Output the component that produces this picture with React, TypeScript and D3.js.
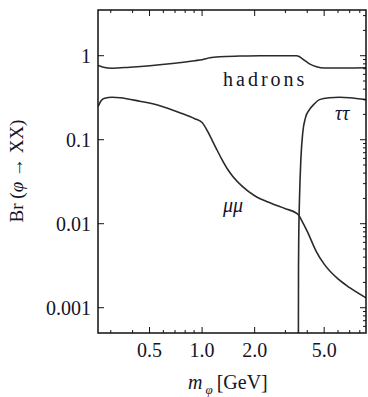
import React from "react";
import * as d3 from "d3";

const hadronX = [0.2535, 0.272, 0.305, 0.386, 0.503, 0.698, 0.908, 1.0, 1.107, 1.26, 1.64, 2.14, 3.47, 3.61, 3.86, 4.12, 4.52, 5.02, 6.54, 8.68];
const hadronY = [0.766, 0.73, 0.71, 0.73, 0.76, 0.814, 0.872, 0.896, 0.946, 0.973, 0.99, 1.0, 1.0, 0.973, 0.88, 0.8, 0.74, 0.715, 0.715, 0.72];

const muX = [0.2535, 0.264, 0.277, 0.305, 0.339, 0.44, 0.573, 0.746, 0.908, 1.0, 1.1, 1.2, 1.3, 1.4, 1.5, 1.7, 2.0, 2.5, 3.0, 3.5, 3.56, 3.7, 4.0, 4.5, 5.0, 6.0, 7.0, 8.68];
const muY = [0.247, 0.291, 0.312, 0.32, 0.316, 0.287, 0.254, 0.21, 0.178, 0.16, 0.115, 0.08, 0.058, 0.0445, 0.0365, 0.0278, 0.0215, 0.0174, 0.0151, 0.0132, 0.0128, 0.0111, 0.0081, 0.0047, 0.0033, 0.0022, 0.00173, 0.00131];

const tauX = [3.555, 3.565, 3.58, 3.61, 3.68, 3.77, 3.91, 4.12, 4.4, 4.7, 5.36, 6.1, 6.97, 8.68];
const tauY = [0.0001, 0.003, 0.008, 0.019, 0.06, 0.121, 0.183, 0.228, 0.268, 0.3, 0.316, 0.32, 0.316, 0.3];

const xMajor = [0.5, 1.0, 2.0, 5.0];
const xMajorLabels = ["0.5", "1.0", "2.0", "5.0"];
const xMinor = [0.3, 0.4, 0.6, 0.7, 0.8, 0.9, 3, 4, 6, 7, 8];
const yMajor = [1, 0.1, 0.01, 0.001];
const yMajorLabels = ["1", "0.1", "0.01", "0.001"];

const W = 368, H = 397;
const L = 98, R = 366, T = 10, B = 333;
const FONT = "'Liberation Serif', 'Times New Roman', serif";
const INK = "#141428";

export default function App() {
  const x = d3.scaleLog().domain([0.2535, 8.68]).range([L, R]);
  const y = d3.scaleLog().domain([5e-4, 3.5]).range([B, T]);
  const line = d3.line<[number, number]>()
    .x(d => x(d[0]))
    .y(d => y(d[1]))
    .curve(d3.curveMonotoneX);
  const zip = (a: number[], b: number[]) => a.map((v, i) => [v, b[i]] as [number, number]);

  const yMinor: number[] = [];
  for (let e = -4; e <= 0; e++) {
    for (let k = 2; k <= 9; k++) {
      const v = k * Math.pow(10, e);
      if (v > 5e-4 && v < 3.5) yMinor.push(v);
    }
  }

  return (
    <svg width={W} height={H} style={{ display: "block", position: "absolute", left: 0, top: 0 }}>
      <rect x={0} y={0} width={W} height={H} fill="#fff" />
      <defs>
        <clipPath id="plot">
          <rect x={L} y={T} width={R - L} height={B - T} />
        </clipPath>
      </defs>
      <g clipPath="url(#plot)" fill="none" strokeLinejoin="round">
        <path d={line(zip(hadronX, hadronY)) || ""} stroke="#2a2a2a" strokeWidth={1.6} />
        <path d={line(zip(muX, muY)) || ""} stroke="#2a2a2a" strokeWidth={1.6} />
        <path d={line(zip(tauX, tauY)) || ""} stroke="#2a2a2a" strokeWidth={1.6} />
      </g>
      {/* frame */}
      <rect x={L} y={T} width={R - L} height={B - T} fill="none" stroke="#111" strokeWidth={1.5} />
      {/* x ticks */}
      {xMajor.map((v, i) => (
        <g key={"xm" + i} stroke="#111" strokeWidth={1}>
          <line x1={x(v)} x2={x(v)} y1={B} y2={B - 6} />
          <line x1={x(v)} x2={x(v)} y1={T} y2={T + 6} />
        </g>
      ))}
      {xMinor.map((v, i) => (
        <g key={"xn" + i} stroke="#111" strokeWidth={1}>
          <line x1={x(v)} x2={x(v)} y1={B} y2={B - 3} />
          <line x1={x(v)} x2={x(v)} y1={T} y2={T + 3} />
        </g>
      ))}
      {yMajor.map((v, i) => (
        <g key={"ym" + i} stroke="#111" strokeWidth={1}>
          <line x1={L} x2={L + 6} y1={y(v)} y2={y(v)} />
          <line x1={R} x2={R - 6} y1={y(v)} y2={y(v)} />
        </g>
      ))}
      {yMinor.map((v, i) => (
        <line key={"yn" + i} x1={R} x2={R - 3} y1={y(v)} y2={y(v)} stroke="#111" strokeWidth={1} />
      ))}
      {/* tick labels */}
      {xMajor.map((v, i) => (
        <text key={"xl" + i} x={x(v)} y={357} textAnchor="middle" fontFamily={FONT} fontSize={20} fill={INK}>
          {xMajorLabels[i]}
        </text>
      ))}
      {yMajor.map((v, i) => (
        <text key={"yl" + i} x={91} y={y(v) + 7} textAnchor="end" fontFamily={FONT} fontSize={20} fill={INK}>
          {yMajorLabels[i]}
        </text>
      ))}
      {/* curve labels */}
      <text x={223} y={86} fontFamily={FONT} fontSize={20} letterSpacing={3} fill={INK}>hadrons</text>
      <text x={335} y={120} fontFamily={FONT} fontSize={20} fontStyle="italic" fill={INK}>ττ</text>
      <text x={223} y={212} fontFamily={FONT} fontSize={20} fontStyle="italic" fill={INK}>μμ</text>
      {/* axis labels */}
      <text x={188} y={389} fontFamily={FONT} fontSize={20} fill={INK}>
        <tspan fontStyle="italic">m</tspan>
        <tspan fontStyle="italic" fontSize={13} dy={5} dx={3}>φ</tspan>
        <tspan dy={-5} dx={4}>[GeV]</tspan>
      </text>
      <text transform="translate(23,171) rotate(-90)" textAnchor="middle" fontFamily={FONT} fontSize={19} fill={INK}>
        Br (<tspan fontStyle="italic">φ</tspan> → XX)
      </text>
    </svg>
  );
}
